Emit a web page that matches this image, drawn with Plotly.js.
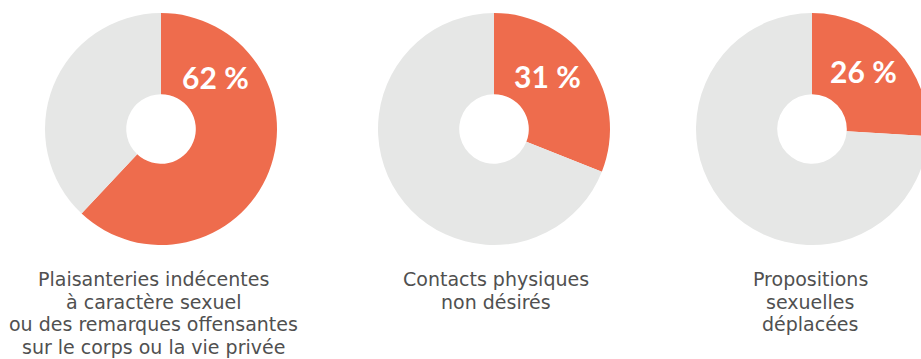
<!DOCTYPE html>
<html>
<head>
<meta charset="utf-8">
<script src="https://cdn.plot.ly/plotly-3.0.1.min.js"></script>
<style>
html,body{margin:0;padding:0;overflow:hidden;background:#fff;width:921px;height:359px;}
#chart{width:935px;height:359px;}
</style>
</head>
<body>
<div id="chart"></div>
<script>
// Data
const categories = [
  ["Plaisanteries indécentes", "à caractère sexuel", "ou des remarques offensantes", "sur le corps ou la vie privée"],
  ["Contacts physiques", "non désirés"],
  ["Propositions", "sexuelles", "déplacées"]
];
const shares = [62, 31, 26];
const sliceLabels = ["Oui", "Non"];

const W = 935, H = 359;
const orange = "#EE6C4D", grey = "#E6E7E6";
const centersX = [161, 494, 812];
const centerY = 129, R = 116;

const traces = shares.map((v, i) => ({
  type: "pie",
  values: [v, 100 - v],
  labels: sliceLabels,
  sort: false,
  direction: "clockwise",
  rotation: 0,
  hole: 0.3,
  textinfo: "none",
  hoverinfo: "skip",
  marker: {colors: [orange, grey], line: {width: 0}},
  domain: {
    x: [(centersX[i] - R) / W, (centersX[i] + R) / W],
    y: [1 - (centerY + R) / H, 1 - (centerY - R) / H]
  },
  showlegend: false
}));

const pctPos = [[215, 77], [547, 76], [863, 71]];
const capX = [153, 496, 810];
const annotations = [];
shares.forEach((v, i) => {
  annotations.push({
    xref: "paper", yref: "paper",
    x: pctPos[i][0] / W, y: 1 - pctPos[i][1] / H,
    xanchor: "center", yanchor: "middle",
    text: "<b>" + v + "\u202f%</b>",
    showarrow: false,
    font: {family: "Lato, 'Open Sans', sans-serif", size: 30, color: "#ffffff"}
  });
  categories[i].forEach((line, k) => {
    annotations.push({
      xref: "paper", yref: "paper",
      x: capX[i] / W, y: 1 - (279 + 22.6 * k) / H,
      xanchor: "center", yanchor: "middle",
      text: line,
      showarrow: false,
      font: {family: "'DejaVu Sans', sans-serif", size: 19, color: "#505050"}
    });
  });
});

Plotly.newPlot("chart", traces, {
  width: W, height: H,
  margin: {l: 0, r: 0, t: 0, b: 0},
  paper_bgcolor: "#ffffff",
  annotations: annotations
}, {staticPlot: true});
</script>
</body>
</html>
